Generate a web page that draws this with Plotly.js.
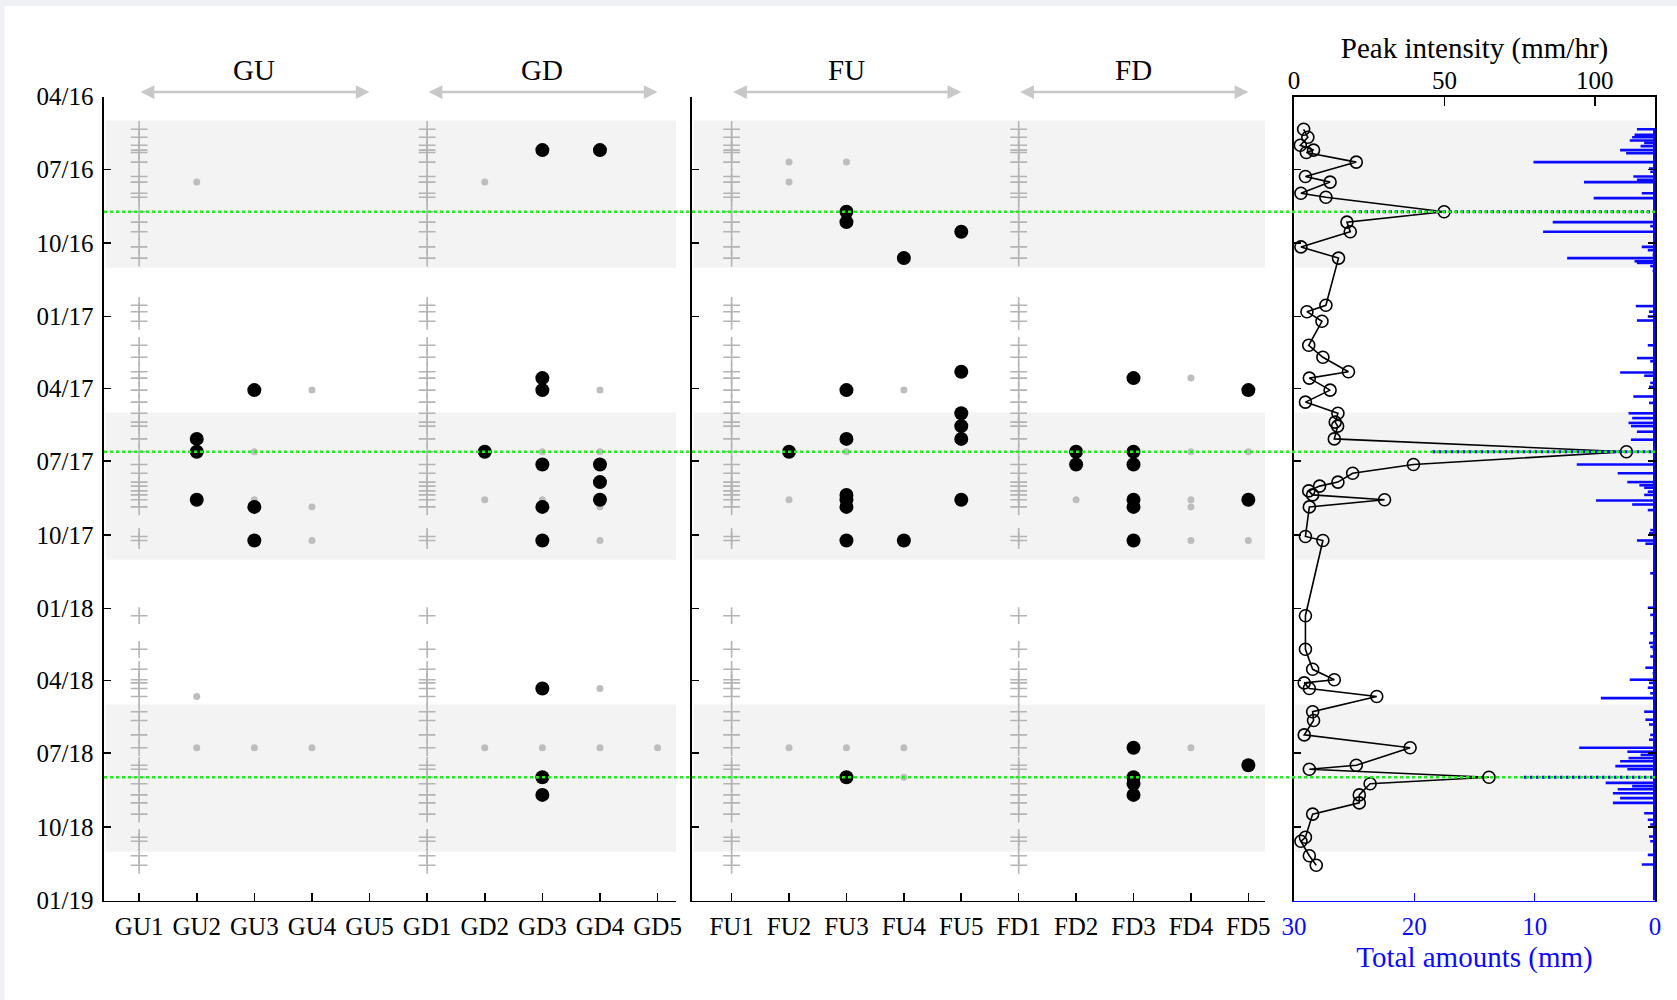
<!DOCTYPE html>
<html>
<head>
<meta charset="utf-8">
<script src="https://cdn.plot.ly/plotly-3.0.1.min.js"></script>
<style>html,body{margin:0;padding:0;background:#fff;}#chart{width:1677px;height:1000px;}</style>
</head>
<body>
<div id="chart"></div>
<script>
// ---------------- DATA ----------------
const leftCats = ['GU1','GU2','GU3','GU4','GU5','GD1','GD2','GD3','GD4','GD5'];
const midCats  = ['FU1','FU2','FU3','FU4','FU5','FD1','FD2','FD3','FD4','FD5'];
const groupNames = ['GU','GD','FU','FD'];
const eventStations = ['GU1','GD1','FU1','FD1'];

const quarterTicks  = ['2016-04-01','2016-07-01','2016-10-01','2017-01-01','2017-04-01','2017-07-01','2017-10-01','2018-01-01','2018-04-01','2018-07-01','2018-10-01','2019-01-01'];
const quarterLabels = ['04/16','07/16','10/16','01/17','04/17','07/17','10/17','01/18','04/18','07/18','10/18','01/19'];

const seasonStart = ['2016-05-01','2017-05-01','2018-05-01'];
const seasonEnd   = ['2016-11-01','2017-11-01','2018-11-01'];

// rainfall events (dates) and peak intensity (mm/hr)
const eventDates = [
 '2016-05-12','2016-05-22','2016-06-01','2016-06-07','2016-06-10','2016-06-22','2016-07-10','2016-07-17','2016-07-31','2016-08-05','2016-08-23','2016-09-05','2016-09-17','2016-10-06','2016-10-20',
 '2016-12-18','2016-12-26','2017-01-07','2017-02-06','2017-02-21','2017-03-11','2017-03-19','2017-04-03','2017-04-18','2017-05-02','2017-05-13','2017-05-18','2017-06-03','2017-06-19','2017-07-05','2017-07-16','2017-07-27','2017-08-01','2017-08-07','2017-08-12','2017-08-18','2017-08-27','2017-10-03','2017-10-08',
 '2018-01-10','2018-02-21','2018-03-18','2018-03-31','2018-04-04','2018-04-11','2018-04-21','2018-05-10','2018-05-21','2018-06-08','2018-06-24','2018-07-16','2018-07-21','2018-07-31','2018-08-08','2018-08-22','2018-09-01','2018-09-15','2018-10-14','2018-10-19','2018-11-06','2018-11-18'];
const peakIntensity = [
 3.2,4.6,2.1,6.5,4.1,20.7,3.8,12.0,2.3,10.6,49.9,17.6,18.7,2.3,14.8,
 10.6,4.3,9.3,4.9,9.6,18.1,5.1,12.0,3.8,14.6,13.7,14.5,13.4,110.5,39.7,19.5,14.6,8.5,4.9,6.2,30.1,5.1,3.8,9.6,
 3.8,3.8,6.2,13.4,3.4,5.1,27.5,6.2,6.5,3.4,38.6,20.7,5.1,64.8,25.3,21.7,21.7,6.2,3.8,2.3,5.1,7.4];

// key events (green dotted lines) and their total amounts (mm)
const keyDates  = ['2016-08-23','2017-06-19','2018-07-31'];
const keyTotals = [25.1, 18.5, 10.9];

// daily total amounts (mm)
const rainDates = [
 '2016-05-12','2016-05-19','2016-05-22','2016-05-26','2016-05-29','2016-06-02','2016-06-07','2016-06-11','2016-06-22','2016-06-30','2016-07-04','2016-07-10','2016-07-14','2016-07-17','2016-07-31','2016-08-06','2016-09-05','2016-09-10','2016-09-17','2016-10-06','2016-10-10','2016-10-16','2016-10-20','2016-10-24','2016-10-26','2016-10-30','2016-11-05','2016-12-19','2016-12-26',
 '2017-01-01','2017-01-06','2017-02-06','2017-02-22','2017-02-26','2017-03-12','2017-03-16','2017-03-25','2017-03-30','2017-04-11','2017-04-19','2017-05-02','2017-05-08','2017-05-14','2017-05-18','2017-05-25','2017-06-04','2017-07-05','2017-07-16','2017-07-27','2017-07-31','2017-08-03','2017-08-08','2017-08-12','2017-08-19','2017-08-24','2017-08-31','2017-09-25','2017-09-29','2017-10-08','2017-10-12','2017-11-18','2017-12-31',
 '2018-01-09','2018-02-01','2018-02-13','2018-02-18','2018-02-21','2018-03-02','2018-03-16','2018-03-23','2018-03-31','2018-04-04','2018-04-10','2018-04-17','2018-04-23','2018-05-10','2018-05-20','2018-05-26','2018-06-08','2018-06-14','2018-06-24','2018-06-29','2018-07-03','2018-07-07','2018-07-11','2018-07-17','2018-07-21','2018-08-07','2018-08-11','2018-08-15','2018-08-20','2018-08-26','2018-09-01','2018-09-14','2018-09-22','2018-09-28','2018-10-13','2018-10-19','2018-11-05','2018-11-17'];
const rainTotals = [
 1.5,1.7,1.9,2.1,0.9,1.2,2.9,2.4,10.1,0.5,0.4,1.8,1.5,5.9,1.1,5.1,8.5,0.4,9.3,1.1,0.6,0.2,7.3,1.7,1.5,0.4,0.2,1.6,0.5,
 0.6,1.5,0.6,1.5,0.4,2.9,0.9,0.4,0.5,1.8,0.5,2.2,1.9,2.2,2.0,1.5,2.0,6.5,3.1,2.3,1.3,0.9,0.6,0.9,4.9,1.9,0.6,0.4,0.5,1.5,0.8,0.4,0.6,
 0.4,0.4,0.5,0.4,0.2,0.4,0.8,0.2,2.1,0.5,0.6,0.4,4.5,0.9,0.8,0.5,0.4,0.5,6.3,2.3,1.2,2.2,2.9,3.3,2.3,4.1,1.9,3.1,3.5,2.9,3.5,0.9,0.6,0.4,0.5,0.4,0.6,1.1];

// detections: large black dots
const bigStations = [
 'GD3','GD4','GU2','GU2','GU2','GU3','GU3','GU3','GD2','GD3','GD3','GD3','GD3','GD3','GD4','GD4','GD4','GD3','GD3','GD3',
 'FU3','FU3','FU4','FU5','FU2','FU3','FU3','FU3','FU3','FU3','FU3','FU4','FU5','FU5','FU5','FU5','FU5',
 'FD2','FD2','FD3','FD3','FD3','FD3','FD3','FD3','FD5','FD5','FU3','FD3','FD3','FD3','FD3','FD5'];
const bigDates = [
 '2016-06-07','2016-06-07','2017-06-03','2017-06-19','2017-08-18','2017-04-03','2017-08-27','2017-10-08','2017-06-19','2017-03-19','2017-04-03','2017-07-05','2017-08-27','2017-10-08','2017-07-05','2017-07-27','2017-08-18','2018-04-11','2018-07-31','2018-08-22',
 '2016-08-23','2016-09-05','2016-10-20','2016-09-17','2017-06-19','2017-04-03','2017-06-03','2017-08-12','2017-08-18','2017-08-27','2017-10-08','2017-10-08','2017-03-11','2017-05-02','2017-05-18','2017-06-03','2017-08-18',
 '2017-06-19','2017-07-05','2017-03-19','2017-06-19','2017-07-05','2017-08-18','2017-08-27','2017-10-08','2017-04-03','2017-08-18','2018-07-31','2018-06-24','2018-07-31','2018-08-08','2018-08-22','2018-07-16'];

// detections: small grey dots
const smallStations = [
 'GU2','GD2','GU3','GU3','GU4','GU4','GU4','GD2','GD3','GD3','GD4','GD4','GD4','GD4',
 'GU2','GU2','GU3','GU4','GD2','GD3','GD4','GD4','GD5',
 'FU2','FU2','FU3','FU2','FU3','FU4','FD2','FD4','FD4','FD4','FD4','FD4','FD5','FD5',
 'FU2','FU3','FU4','FU4','FD4'];
const smallDates = [
 '2016-07-17','2016-07-17','2017-06-19','2017-08-18','2017-04-03','2017-08-27','2017-10-08','2017-08-18','2017-06-19','2017-08-18','2017-04-03','2017-06-19','2017-08-27','2017-10-08',
 '2018-04-21','2018-06-24','2018-06-24','2018-06-24','2018-06-24','2018-06-24','2018-04-11','2018-06-24','2018-06-24',
 '2016-06-22','2016-07-17','2016-06-22','2017-08-18','2017-06-19','2017-04-03','2017-08-18','2017-03-19','2017-06-19','2017-08-18','2017-08-27','2017-10-08','2017-06-19','2017-10-08',
 '2018-06-24','2018-06-24','2018-06-24','2018-07-31','2018-06-24'];

// ---------------- LAYOUT CONSTANTS ----------------
const W = 1677, H = 1000;
const domL = [104/W, 676/W], domM = [692/W, 1265/W], domR = [1294/W, 1655/W];
const domY = [1 - 900.5/H, 1 - 96.5/H];
const yRange = ['2019-01-01', '2016-04-01'];
const FONT = 'Liberation Serif, Times New Roman, serif';
const GREY_MARK = '#bdbdbd';
const CROSS_GREY = '#b4b4b4';
const BLUE = '#0a0aff';

function stationPoints(stations, dates, cats) {
  const x = [], y = [];
  stations.forEach((s, i) => { const k = cats.indexOf(s); if (k >= 0) { x.push(k); y.push(dates[i]); } });
  return {x, y};
}
function crossPoints(cats) {
  const x = [], y = [];
  eventStations.forEach(s => { const k = cats.indexOf(s); if (k >= 0) eventDates.forEach(d => { x.push(k); y.push(d); }); });
  return {x, y};
}

const traces = [];
[[leftCats, 'x', 'y'], [midCats, 'x2', 'y2']].forEach(([cats, xa, ya]) => {
  const c = crossPoints(cats);
  traces.push({type: 'scatter', mode: 'markers', x: c.x, y: c.y, xaxis: xa, yaxis: ya, hoverinfo: 'skip',
    marker: {symbol: 'cross-thin-open', size: 12, color: CROSS_GREY, line: {color: CROSS_GREY, width: 1.6}}});
  const s = stationPoints(smallStations, smallDates, cats);
  traces.push({type: 'scatter', mode: 'markers', x: s.x, y: s.y, xaxis: xa, yaxis: ya,
    marker: {symbol: 'circle', size: 7, color: GREY_MARK}});
  const b = stationPoints(bigStations, bigDates, cats);
  traces.push({type: 'scatter', mode: 'markers', x: b.x, y: b.y, xaxis: xa, yaxis: ya,
    marker: {symbol: 'circle', size: 14, color: '#000'}});
});

// rainfall bars as horizontal stems from 0
const bx = [], by = [];
rainDates.forEach((d, i) => { bx.push(rainTotals[i], 0, null); by.push(d, d, null); });
traces.push({type: 'scatter', mode: 'lines', x: bx, y: by, xaxis: 'x4', yaxis: 'y3',
  line: {color: BLUE, width: 2.6}, hoverinfo: 'skip'});
// baseline along zero
traces.push({type: 'scatter', mode: 'lines', x: [0, 0], y: [rainDates[0], yRange[0]], xaxis: 'x4', yaxis: 'y3',
  line: {color: BLUE, width: 4}, hoverinfo: 'skip'});
// key event totals (dotted)
const kx = [], ky = [];
keyDates.forEach((d, i) => { kx.push(keyTotals[i], 0, null); ky.push(d, d, null); });
traces.push({type: 'scatter', mode: 'lines', x: kx, y: ky, xaxis: 'x4', yaxis: 'y3',
  line: {color: BLUE, width: 3, dash: 'dot'}, hoverinfo: 'skip'});
// peak intensity
traces.push({type: 'scatter', mode: 'lines+markers', x: peakIntensity, y: eventDates, xaxis: 'x3', yaxis: 'y3',
  line: {color: '#000', width: 1.6}, marker: {symbol: 'circle-open', size: 12, color: '#000', line: {width: 1.6}}});

const tickFont = {family: FONT, size: 25, color: '#000'};
const baseX = {showgrid: false, zeroline: false, showline: true, linecolor: '#000', linewidth: 1.6,
  ticks: 'inside', ticklen: 8, tickwidth: 1.6, tickcolor: '#000', tickfont: tickFont, fixedrange: true,
  tickvals: [0,1,2,3,4,5,6,7,8,9], ticklabelstandoff: 3};
const baseY = {type: 'date', domain: domY, range: yRange, showgrid: false, zeroline: false, showline: true,
  linecolor: '#000', linewidth: 1.6, ticks: 'inside', ticklen: 7, tickwidth: 1.6, tickcolor: '#000',
  tickvals: quarterTicks, ticktext: quarterLabels, tickfont: tickFont, fixedrange: true};

const shapes = [];
// border strips of the original picture
shapes.push({type: 'rect', xref: 'paper', yref: 'paper', x0: 0, x1: 1, y0: 0.994, y1: 1, fillcolor: '#eef0f4', line: {width: 0}, layer: 'below'});
shapes.push({type: 'rect', xref: 'paper', yref: 'paper', x0: 0, x1: 0.0027, y0: 0, y1: 1, fillcolor: '#eef0f4', line: {width: 0}, layer: 'below'});
['x', 'x2', 'x3'].forEach((xa, p) => {
  const ya = ['y', 'y2', 'y3'][p];
  seasonStart.forEach((s, i) => {
    shapes.push({type: 'rect', xref: xa + ' domain', yref: ya, x0: 0.003, x1: p === 2 ? 0.99 : 1, y0: s, y1: seasonEnd[i],
      fillcolor: '#f3f3f3', line: {width: 0}, layer: 'below'});
  });
});
keyDates.forEach(d => {
  shapes.push({type: 'line', xref: 'paper', yref: 'y', x0: domL[0], x1: domR[1], y0: d, y1: d,
    line: {color: '#1fef1f', width: 2.5, dash: 'dot'}, layer: 'above'});
});

const annotations = [];
const groupAxes = [['x', 0], ['x', 5], ['x2', 0], ['x2', 5]];
groupNames.forEach((g, i) => {
  const [xa, off] = groupAxes[i];
  annotations.push({text: g, xref: xa, yref: 'paper', x: off + 2, y: 1 - 70/H, showarrow: false,
    font: {family: FONT, size: 29, color: '#000'}, xanchor: 'center', yanchor: 'middle'});
  annotations.push({text: '', xref: xa, yref: 'paper', x: off + 4, y: 1 - 92/H, axref: xa, ax: off, ayref: 'pixel', ay: 0,
    showarrow: true, arrowside: 'end+start', arrowhead: 2, arrowsize: 1.1, arrowwidth: 2.5, arrowcolor: '#c8c8c8'});
});

const layout = {
  width: W, height: H, margin: {l: 0, r: 0, t: 0, b: 0}, showlegend: false,
  paper_bgcolor: '#fff', plot_bgcolor: 'rgba(0,0,0,0)',
  font: {family: FONT, color: '#000'},
  xaxis: Object.assign({}, baseX, {domain: domL, anchor: 'y', range: [-0.61, 9.32], ticktext: leftCats}),
  xaxis2: Object.assign({}, baseX, {domain: domM, anchor: 'y2', range: [-0.69, 9.29], ticktext: midCats}),
  xaxis3: {domain: domR, anchor: 'y3', side: 'top', range: [0, 120], tickvals: [0, 50, 100],
    showgrid: false, zeroline: false, showline: true, linecolor: '#000', linewidth: 1.6,
    ticks: 'inside', ticklen: 9, tickwidth: 1.6, tickcolor: '#000', tickfont: tickFont, fixedrange: true,
    ticklabelstandoff: -4,
    title: {text: 'Peak intensity (mm/hr)', font: {family: FONT, size: 29, color: '#000'}, standoff: 0}},
  xaxis4: {overlaying: 'x3', anchor: 'y3', side: 'bottom', range: [30, 0], tickvals: [30, 20, 10, 0],
    showgrid: false, zeroline: false, showline: true, linecolor: BLUE, linewidth: 1.6,
    ticks: 'inside', ticklen: 8, tickwidth: 1.6, tickcolor: BLUE, tickfont: {family: FONT, size: 25, color: BLUE},
    fixedrange: true, ticklabelstandoff: 3,
    title: {text: 'Total amounts (mm)', font: {family: FONT, size: 29, color: BLUE}, standoff: 7}},
  yaxis: Object.assign({}, baseY, {anchor: 'x', ticklabelstandoff: 4}),
  yaxis2: Object.assign({}, baseY, {anchor: 'x2', showticklabels: false}),
  yaxis3: Object.assign({}, baseY, {anchor: 'x3', showticklabels: false, mirror: 'ticks'}),
  shapes: shapes, annotations: annotations
};

Plotly.newPlot('chart', traces, layout, {displayModeBar: false, staticPlot: true});
</script>
</body>
</html>
